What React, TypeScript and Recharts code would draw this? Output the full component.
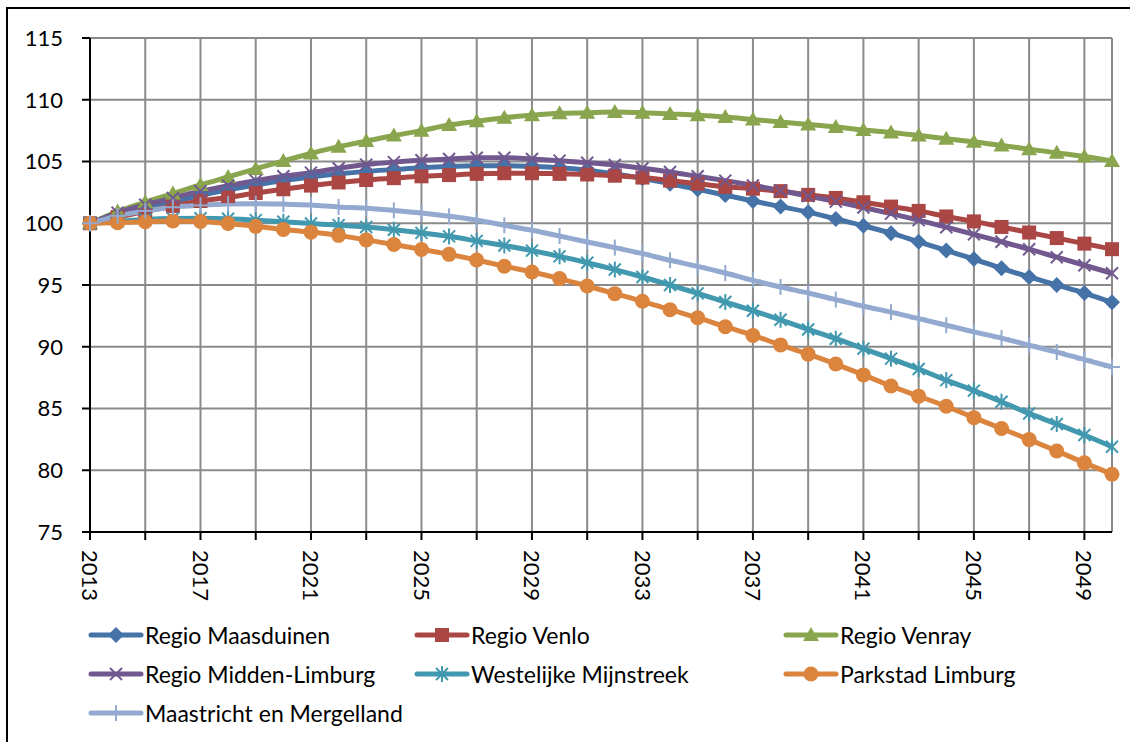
import React from "react";
import {
	LineChart,
	Line,
	XAxis,
	YAxis,
	CartesianGrid,
	ReferenceLine,
} from "recharts";

// Data
const years = [
	2013, 2014, 2015, 2016, 2017, 2018, 2019, 2020, 2021, 2022, 2023, 2024, 2025,
	2026, 2027, 2028, 2029, 2030, 2031, 2032, 2033, 2034, 2035, 2036, 2037, 2038,
	2039, 2040, 2041, 2042, 2043, 2044, 2045, 2046, 2047, 2048, 2049, 2050,
];

const maasduinen = [
	100.0, 100.6, 101.2, 101.75, 102.25, 102.7, 103.1, 103.45, 103.75, 104.0,
	104.2, 104.35, 104.5, 104.6, 104.65, 104.65, 104.6, 104.5, 104.3, 104.0,
	103.65, 103.2, 102.75, 102.28, 101.8, 101.35, 100.9, 100.35, 99.8, 99.2,
	98.5, 97.8, 97.1, 96.35, 95.65, 95.0, 94.35, 93.6,
];

const venlo = [
	100.0, 100.5, 100.95, 101.4, 101.8, 102.1, 102.45, 102.75, 103.05, 103.3,
	103.5, 103.65, 103.8, 103.9, 104.0, 104.05, 104.05, 104.0, 103.95, 103.85,
	103.7, 103.45, 103.2, 102.95, 102.8, 102.6, 102.3, 102.05, 101.7, 101.35,
	101.0, 100.55, 100.15, 99.7, 99.25, 98.8, 98.35, 97.9,
];

const venray = [
	100.0, 100.95, 101.7, 102.4, 103.1, 103.75, 104.4, 105.05, 105.65, 106.2,
	106.65, 107.1, 107.5, 107.95, 108.25, 108.55, 108.75, 108.9, 108.95, 109.0,
	108.95, 108.85, 108.75, 108.6, 108.4, 108.2, 108.0, 107.8, 107.55, 107.35,
	107.1, 106.85, 106.6, 106.3, 106.0, 105.7, 105.4, 105.05,
];

const middenLimburg = [
	100.0, 100.85, 101.5, 102.05, 102.6, 103.05, 103.45, 103.8, 104.1, 104.45,
	104.75, 104.95, 105.1, 105.2, 105.3, 105.3, 105.2, 105.07, 104.9, 104.72,
	104.45, 104.15, 103.8, 103.45, 103.07, 102.65, 102.2, 101.75, 101.28, 100.78,
	100.25, 99.68, 99.1, 98.5, 97.9, 97.25, 96.6, 95.95,
];

const westelijkeMijnstreek = [
	100.0, 100.15, 100.3, 100.38, 100.4, 100.37, 100.25, 100.12, 99.98, 99.85,
	99.7, 99.48, 99.22, 98.94, 98.57, 98.2, 97.78, 97.32, 96.8, 96.25, 95.65,
	95.0, 94.32, 93.62, 92.92, 92.18, 91.4, 90.65, 89.85, 89.04, 88.2, 87.3,
	86.45, 85.55, 84.6, 83.75, 82.85, 81.9,
];

const parkstad = [
	100.0, 100.05, 100.12, 100.18, 100.15, 99.98, 99.75, 99.5, 99.28, 99.02,
	98.65, 98.28, 97.88, 97.48, 97.02, 96.52, 96.05, 95.52, 94.92, 94.3, 93.68,
	93.0, 92.35, 91.62, 90.92, 90.15, 89.4, 88.6, 87.72, 86.82, 86.0, 85.18,
	84.26, 83.38, 82.48, 81.56, 80.6, 79.68,
];

const maastricht = [
	100.0, 100.6, 101.0, 101.3, 101.45, 101.55, 101.58, 101.55, 101.48, 101.32,
	101.22, 101.04, 100.83, 100.56, 100.24, 99.84, 99.43, 98.97, 98.48, 98.03,
	97.54, 97.0, 96.51, 95.97, 95.38, 94.84, 94.35, 93.82, 93.28, 92.8, 92.28,
	91.74, 91.2, 90.7, 90.12, 89.57, 88.96, 88.36,
];

const yTicks = [75, 80, 85, 90, 95, 100, 105, 110, 115];
const xTicks = years.filter((y) => (y - 2013) % 2 === 0);

type Shape = "diamond" | "square" | "triangle" | "x" | "star" | "circle" | "plus";

const series: { key: string; name: string; color: string; shape: Shape; values: number[] }[] = [
	{ key: "maasduinen", name: "Regio Maasduinen", color: "#4572A7", shape: "diamond", values: maasduinen },
	{ key: "venlo", name: "Regio Venlo", color: "#AA4643", shape: "square", values: venlo },
	{ key: "venray", name: "Regio Venray", color: "#89A54E", shape: "triangle", values: venray },
	{ key: "middenLimburg", name: "Regio Midden-Limburg", color: "#71588F", shape: "x", values: middenLimburg },
	{ key: "westelijke", name: "Westelijke Mijnstreek", color: "#4198AF", shape: "star", values: westelijkeMijnstreek },
	{ key: "parkstad", name: "Parkstad Limburg", color: "#DB843D", shape: "circle", values: parkstad },
	{ key: "maastricht", name: "Maastricht en Mergelland", color: "#93A9CF", shape: "plus", values: maastricht },
];

const data = years.map((year, i) => {
	const row: Record<string, number> = { year };
	series.forEach((s) => {
		row[s.key] = s.values[i];
	});
	return row;
});

const FONT = "Lato, 'Noto Sans', sans-serif";

// Marker
const Marker = ({ shape, cx, cy, color }: { shape: Shape; cx: number; cy: number; color: string }) => {
	switch (shape) {
		case "diamond":
			return <polygon points={`${cx},${cy - 8} ${cx + 8},${cy} ${cx},${cy + 8} ${cx - 8},${cy}`} fill={color} />;
		case "square":
			return <rect x={cx - 7} y={cy - 7} width={14} height={14} fill={color} />;
		case "triangle":
			return <polygon points={`${cx},${cy - 8} ${cx + 8},${cy + 6} ${cx - 8},${cy + 6}`} fill={color} />;
		case "x":
			return (
				<g stroke={color} strokeWidth={2}>
					<line x1={cx - 6} y1={cy - 6} x2={cx + 6} y2={cy + 6} />
					<line x1={cx - 6} y1={cy + 6} x2={cx + 6} y2={cy - 6} />
				</g>
			);
		case "star":
			return (
				<g stroke={color} strokeWidth={2}>
					<line x1={cx - 6} y1={cy - 6} x2={cx + 6} y2={cy + 6} />
					<line x1={cx - 6} y1={cy + 6} x2={cx + 6} y2={cy - 6} />
					<line x1={cx} y1={cy - 8} x2={cx} y2={cy + 8} />
				</g>
			);
		case "circle":
			return <circle cx={cx} cy={cy} r={7.5} fill={color} />;
		case "plus":
			return (
				<g stroke={color} strokeWidth={2}>
					<line x1={cx} y1={cy - 8} x2={cx} y2={cy + 8} />
					<line x1={cx - 8} y1={cy} x2={cx + 8} y2={cy} />
				</g>
			);
	}
	return null;
};

const XTick = (props: any) => {
	const { x, payload } = props;
	if ((payload.value - 2013) % 4 !== 0) return <g />;
	const ty = 550;
	return (
		<text
			x={x}
			y={ty}
			dy="0.36em"
			textAnchor="start"
			transform={`rotate(90, ${x}, ${ty})`}
			fontFamily={FONT}
			fontSize={22}
			fill="#000"
		>
			{payload.value}
		</text>
	);
};

const legendCols = [88, 414, 783];
const legendRows = [635, 674, 713];

const App = () => {
	return (
		<div style={{ position: "relative", width: 1130, height: 742, overflow: "hidden", fontFamily: FONT }}>
			<style>{`body{margin:0;overflow:hidden}`}</style>
			<div
				style={{
					position: "absolute",
					left: 6,
					top: 7,
					width: 1140,
					height: 760,
					border: "2px solid #000",
				}}
			/>
			<div style={{ position: "absolute", left: 0, top: 0 }}>
				<LineChart
					width={1130}
					height={620}
					data={data}
					margin={{ top: 38, right: 18, left: 0, bottom: 0 }}
				>
					<CartesianGrid stroke="#8a8a8a" strokeWidth={2} />
					<ReferenceLine x={2050} stroke="#8a8a8a" strokeWidth={2} />
					<XAxis
						dataKey="year"
						type="number"
						domain={[2013, 2050]}
						ticks={xTicks}
						interval={0}
						height={88}
						tickSize={8}
						axisLine={{ stroke: "#000", strokeWidth: 2 }}
						tickLine={{ stroke: "#000", strokeWidth: 2 }}
						tick={<XTick />}
					/>
					<YAxis
						domain={[75, 115]}
						ticks={yTicks}
						interval={0}
						width={90}
						tickSize={8}
						tickMargin={19}
						axisLine={{ stroke: "#000", strokeWidth: 2 }}
						tickLine={{ stroke: "#000", strokeWidth: 2 }}
						tick={{ fill: "#000", fontSize: 22, fontFamily: FONT }}
					/>
					{series.map((s) => (
						<Line
							key={s.key}
							dataKey={s.key}
							name={s.name}
							type="monotone"
							stroke={s.color}
							strokeWidth={5}
							isAnimationActive={false}
							dot={(p: any) => (
								<Marker key={`${s.key}-${p.index}`} shape={s.shape} cx={p.cx} cy={p.cy} color={s.color} />
							)}
							activeDot={false}
						/>
					))}
				</LineChart>
			</div>
			{series.map((s, i) => {
				const left = legendCols[i % 3];
				const top = legendRows[Math.floor(i / 3)];
				return (
					<div
						key={s.key}
						style={{
							position: "absolute",
							left,
							top: top - 15,
							height: 30,
							display: "flex",
							alignItems: "center",
							whiteSpace: "nowrap",
						}}
					>
						<svg width={57} height={30}>
							<line x1={3} y1={15} x2={53} y2={15} stroke={s.color} strokeWidth={5} strokeLinecap="round" />
							<Marker shape={s.shape} cx={28} cy={15} color={s.color} />
						</svg>
						<span style={{ fontSize: 23, color: "#000", lineHeight: "30px" }}>{s.name}</span>
					</div>
				);
			})}
		</div>
	);
};

export default App;
